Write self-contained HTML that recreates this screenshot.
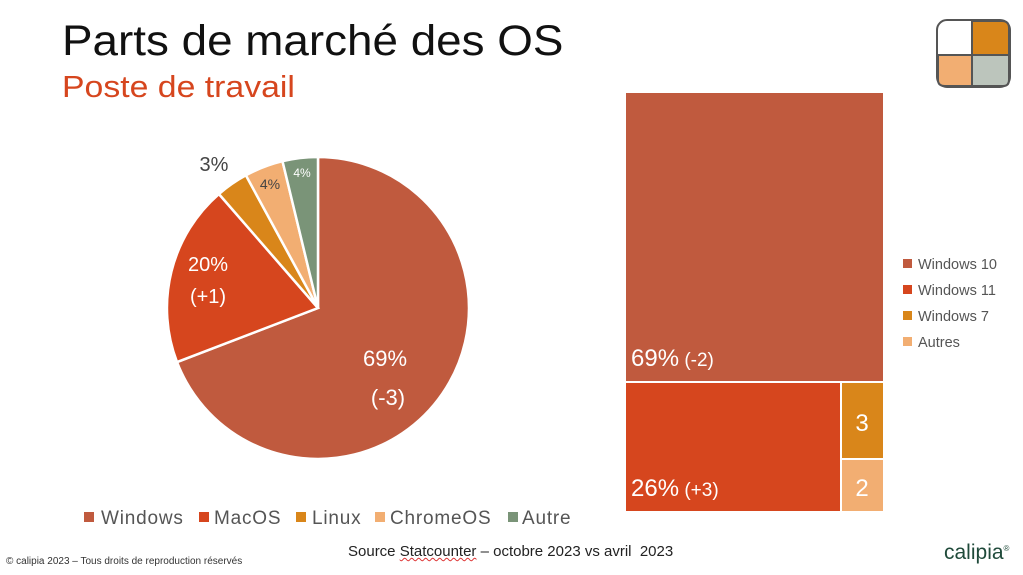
<!DOCTYPE html>
<html><head><meta charset="utf-8"><style>
body{margin:0;width:1023px;height:575px;background:#fff;overflow:hidden;font-family:"Liberation Sans",sans-serif;position:relative}
.a{position:absolute;white-space:nowrap}
</style></head><body>
<div class="a" style="left:62px;top:17px;font-size:43px;color:#111;transform:scaleX(1.065);transform-origin:0 0">Parts de marché des OS</div>
<div class="a" style="left:62px;top:69px;font-size:31px;color:#D6461E;transform:scaleX(1.09);transform-origin:0 0">Poste de travail</div>
<svg width="1023" height="575" style="position:absolute;left:0;top:0">
<g stroke="#fff" stroke-width="2.5">
<path d="M318,308 L318,157 A151,151 0 1 1 177,362.1 Z" fill="#C05A3E"/>
<path d="M318,308 L177,362.1 A151,151 0 0 1 218.9,194 Z" fill="#D6461E"/>
<path d="M318,308 L218.9,194 A151,151 0 0 1 245.9,175.3 Z" fill="#D9861A"/>
<path d="M318,308 L245.9,175.3 A151,151 0 0 1 282.5,161.2 Z" fill="#F2AE72"/>
<path d="M318,308 L282.5,161.2 A151,151 0 0 1 318,157 Z" fill="#7A9478"/>
</g>
<g font-family="Liberation Sans,sans-serif">
<text x="385" y="366" font-size="22" fill="#fff" text-anchor="middle">69%</text>
<text x="388" y="405" font-size="22" fill="#fff" text-anchor="middle">(-3)</text>
<text x="208" y="271" font-size="20" fill="#fff" text-anchor="middle">20%</text>
<text x="208" y="303" font-size="20" fill="#fff" text-anchor="middle">(+1)</text>
<text x="214" y="171" font-size="20" fill="#444" text-anchor="middle">3%</text>
<text x="270" y="189" font-size="14" fill="#444" text-anchor="middle">4%</text>
<text x="302" y="177" font-size="12" fill="#fff" text-anchor="middle">4%</text>
</g>
<rect x="626" y="93" width="257" height="288" fill="#C05A3E"/>
<rect x="626" y="383" width="214" height="128" fill="#D6461E"/>
<rect x="842" y="383" width="41" height="75" fill="#D9861A"/>
<rect x="842" y="460" width="41" height="51" fill="#F2AE72"/>
<g font-family="Liberation Sans,sans-serif" fill="#fff">
<text x="631" y="366" font-size="24">69%<tspan font-size="19"> (-2)</tspan></text>
<text x="631" y="496" font-size="24">26%<tspan font-size="19"> (+3)</tspan></text>
<text x="862" y="431" font-size="24" text-anchor="middle">3</text>
<text x="862" y="496" font-size="24" text-anchor="middle">2</text>
</g>
<g font-family="Liberation Sans,sans-serif" font-size="14.5" fill="#555">
<rect x="903" y="259" width="9" height="9" fill="#C05A3E"/><text x="918" y="269">Windows 10</text>
<rect x="903" y="285" width="9" height="9" fill="#D6461E"/><text x="918" y="295">Windows 11</text>
<rect x="903" y="311" width="9" height="9" fill="#D9861A"/><text x="918" y="321">Windows 7</text>
<rect x="903" y="337" width="9" height="9" fill="#F2AE72"/><text x="918" y="347">Autres</text>
</g>
<g font-family="Liberation Sans,sans-serif" font-size="19" fill="#555" letter-spacing="0.8">
<rect x="84" y="512" width="10" height="10" fill="#C05A3E"/><text x="101" y="524">Windows</text>
<rect x="199" y="512" width="10" height="10" fill="#D6461E"/><text x="214" y="524">MacOS</text>
<rect x="296" y="512" width="10" height="10" fill="#D9861A"/><text x="312" y="524">Linux</text>
<rect x="375" y="512" width="10" height="10" fill="#F2AE72"/><text x="390" y="524">ChromeOS</text>
<rect x="508" y="512" width="10" height="10" fill="#7A9478"/><text x="522" y="524">Autre</text>
</g>
<g stroke="#555" stroke-width="2">
<rect x="937" y="20" width="73" height="67" rx="10" fill="#fff"/>
<path d="M972,21 L1002,21 Q1009,21 1009,28 L1009,55 L972,55 Z" fill="#D9861A"/>
<path d="M938,55 L972,55 L972,86 L945,86 Q938,86 938,80 Z" fill="#F2AE72"/>
<path d="M972,55 L1009,55 L1009,80 Q1009,86 1003,86 L972,86 Z" fill="#BCC5BC"/>
</g>
</svg>
<div class="a" style="left:348px;top:543px;font-size:15px;color:#222">Source <span style="text-decoration:underline wavy #d33;text-decoration-thickness:1px">Statcounter</span> – octobre 2023 vs avril&nbsp; 2023</div>
<div class="a" style="left:6px;top:556px;font-size:10px;color:#333">© calipia 2023 – Tous droits de reproduction réservés</div>
<div class="a" style="left:944px;top:541px;font-size:21px;color:#1f4a3a">calipia<sup style="font-size:8px">®</sup></div>
</body></html>
